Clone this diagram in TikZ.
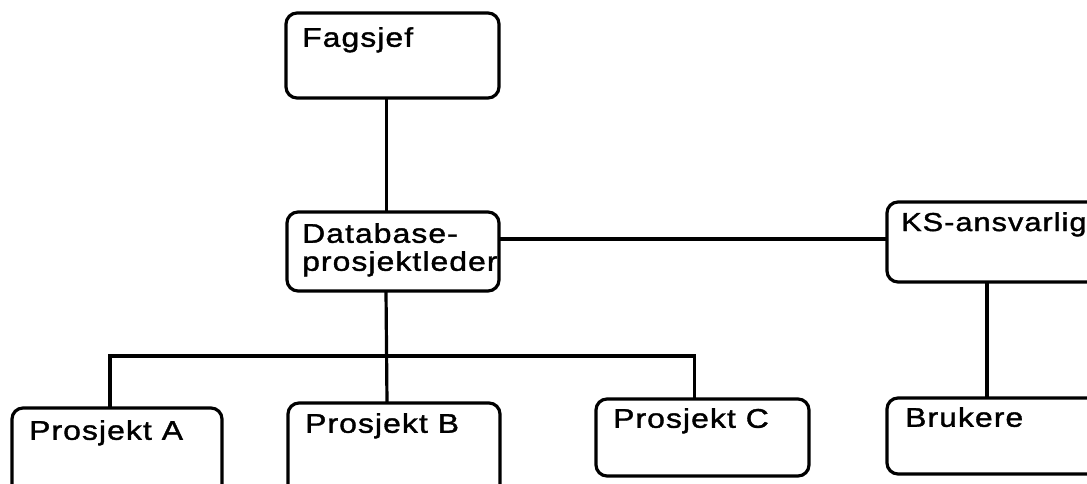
\documentclass[tikz,border=0pt]{standalone}
\usepackage{fontspec}
\setmainfont{Liberation Sans}[FakeStretch=1.18,LetterSpace=4,FakeBold=1.4]
\begin{document}
\begin{tikzpicture}[x=1pt,y=-1pt,
  box/.style={draw=black,line width=3.2pt,rounded corners=11pt,rectangle,anchor=north west,inner sep=0pt,outer sep=0pt},
  lbl/.style={anchor=north west,inner sep=0pt,font=\fontsize{27}{28}\selectfont,align=left},
  conn/.style={draw=black,line width=3.2pt}]
\useasboundingbox (0,0) rectangle (1087,483);
\fill[white] (0,0) rectangle (1087,483);
% boxes
\node[box,minimum width=213pt,minimum height=85pt,
  label={[lbl,xshift=16pt,yshift=-14pt]north west:Fagsjef}] (fag) at (286,13) {};
\node[box,minimum width=212pt,minimum height=79pt,
  label={[lbl,xshift=15pt,yshift=-11pt]north west:Database-\\prosjektleder}] (db) at (287,212) {};
\node[box,minimum width=214pt,minimum height=80pt,
  label={[lbl,font=\fontsize{26}{28}\selectfont,xshift=14pt,yshift=-10pt]north west:KS-ansvarlig}] (ks) at (887,202) {};
\node[box,minimum width=210pt,minimum height=100pt,
  label={[lbl,xshift=17pt,yshift=-12pt]north west:Prosjekt A}] (pa) at (12,408) {};
\node[box,minimum width=212pt,minimum height=100pt,
  label={[lbl,xshift=17pt,yshift=-10pt]north west:Prosjekt B}] (pb) at (288,403) {};
\node[box,minimum width=213pt,minimum height=77pt,
  label={[lbl,xshift=17pt,yshift=-9pt]north west:Prosjekt C}] (pc) at (596,399) {};
\node[box,minimum width=214pt,minimum height=76pt,
  label={[lbl,xshift=18pt,yshift=-9pt]north west:Brukere}] (br) at (887,398) {};
% connectors
\coordinate (hks) at (0,239);
\coordinate (jn) at (0,356);
\draw[conn] ([xshift=-6pt]fag.south) -- ([xshift=-6pt]fag.south |- db.north);
\draw[conn] (db.east |- hks) -- (ks.west |- hks);
\draw[conn] ([xshift=-7pt]db.south) -- ([xshift=-7pt]pb.north);
\draw[conn] ([xshift=-7pt]pa.north) -- ([xshift=-7pt]pa.north |- jn) -- ([xshift=-8pt]pc.north |- jn) -- ([xshift=-8pt]pc.north);
\draw[conn] ([xshift=-7pt]ks.south) -- ([xshift=-7pt]br.north);
\end{tikzpicture}
\end{document}
